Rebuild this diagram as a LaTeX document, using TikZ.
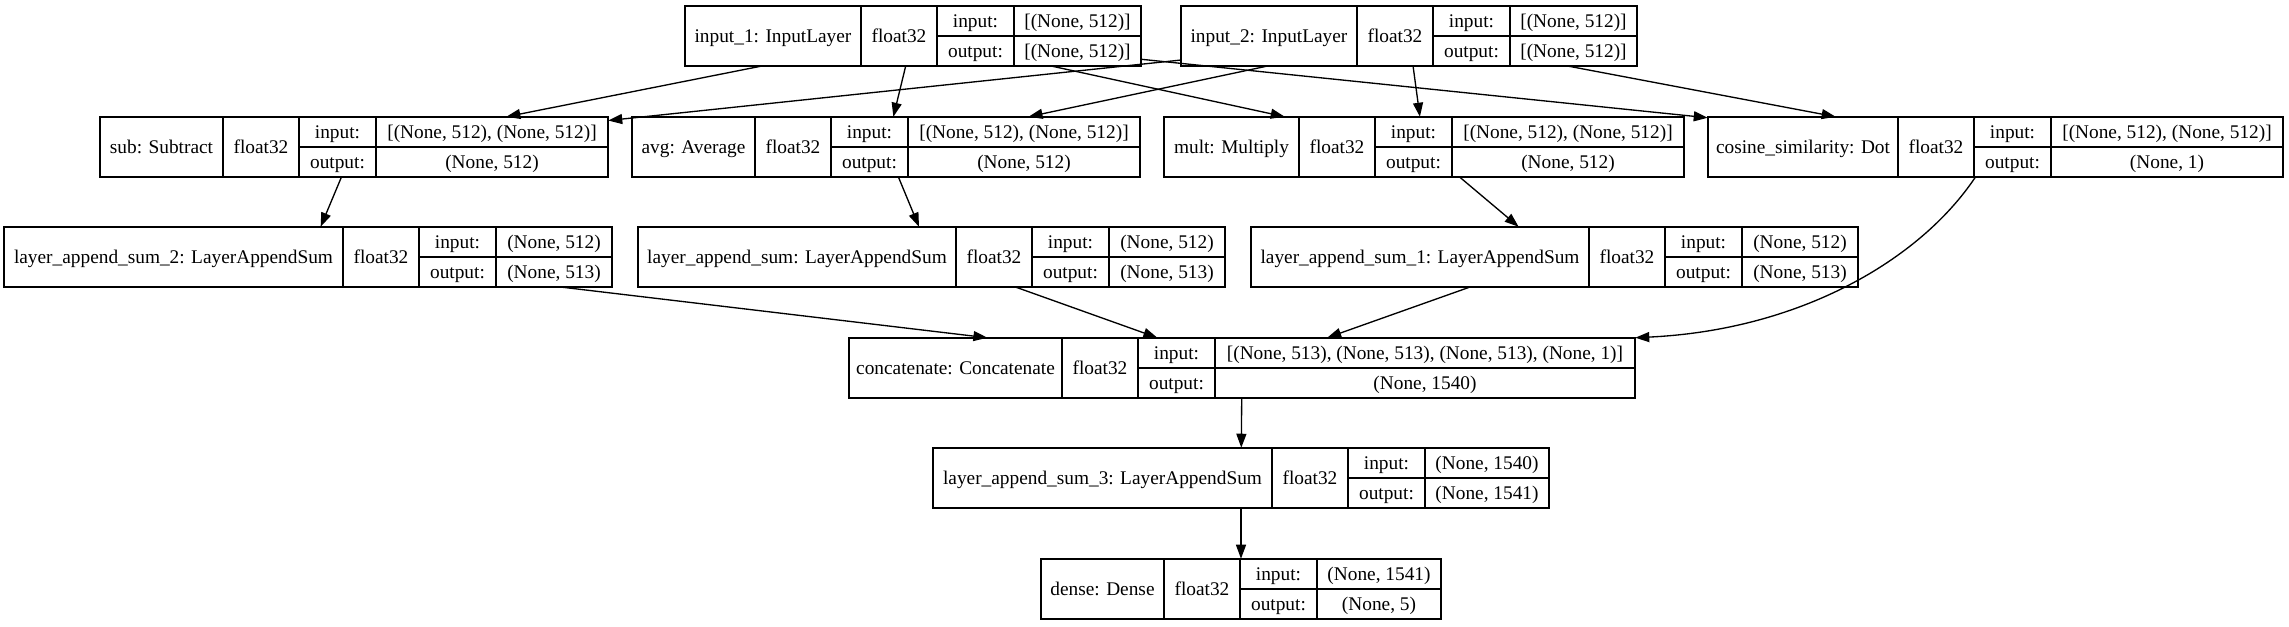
\documentclass[tikz,border=0pt]{standalone}
\usepackage{fontspec}
\setmainfont{Liberation Serif}
\usepackage{tikz}
\usetikzlibrary{positioning,fit,arrows.meta}

\newcommand{\px}{0.75pt}
% one layer record: id, left x, top y, name width, value width, label, input, output
\newcommand{\kerasnode}[8]{%
  \node[field, tall, minimum width=#4*\px, anchor=north west] (#1-name) at (#2,#3) {#6};
  \node[field, tall, minimum width=76*\px, right=0pt of #1-name] (#1-type) {float32};
  \node[field, minimum width=77*\px, anchor=north west] (#1-in) at (#1-type.north east) {input:};
  \node[field, minimum width=77*\px, below=0pt of #1-in] (#1-out) {output:};
  \node[field, minimum width=#5*\px, right=0pt of #1-in] (#1-inv) {#7};
  \node[field, minimum width=#5*\px, right=0pt of #1-out] (#1-outv) {#8};
  \node[fit=(#1-name)(#1-outv), inner sep=0pt] (#1) {};
}

\begin{document}
\begin{tikzpicture}[x=0.75pt, y=-0.75pt,
    field/.style={draw, line width=1.1pt, inner sep=0pt, outer sep=0pt,
      minimum height=30*\px, text height=9.6pt, text depth=0pt,
      font=\fontsize{14.5pt}{16pt}\selectfont},
    tall/.style={minimum height=60*\px},
    flow/.style={line width=1pt, -{Triangle[length=10.5pt, width=7.5pt]}}]
  \useasboundingbox (0,0) rectangle (2289,627);

  % inputs
  \kerasnode{in1}{685}{6}{176}{127}{input\_1: InputLayer}{[(None, 512)]}{[(None, 512)]}
  \kerasnode{in2}{1181}{6}{176}{127}{input\_2: InputLayer}{[(None, 512)]}{[(None, 512)]}

  % merge layers
  \kerasnode{sub}{100}{117}{123}{232}{sub: Subtract}{[(None, 512), (None, 512)]}{(None, 512)}
  \kerasnode{avg}{632}{117}{123}{232}{avg: Average}{[(None, 512), (None, 512)]}{(None, 512)}
  \kerasnode{mult}{1164}{117}{135}{232}{mult: Multiply}{[(None, 512), (None, 512)]}{(None, 512)}
  \kerasnode{cos}{1708}{117}{190}{232}{cosine\_similarity: Dot}{[(None, 512), (None, 512)]}{(None, 1)}

  % append sums
  \kerasnode{las2}{4}{227}{339}{116}{layer\_append\_sum\_2: LayerAppendSum}{(None, 512)}{(None, 513)}
  \kerasnode{las}{638}{227}{318}{116}{layer\_append\_sum: LayerAppendSum}{(None, 512)}{(None, 513)}
  \kerasnode{las1}{1251}{227}{338}{116}{layer\_append\_sum\_1: LayerAppendSum}{(None, 512)}{(None, 513)}

  % head
  \kerasnode{concat}{849}{338}{213}{420}{concatenate: Concatenate}{[(None, 513), (None, 513), (None, 513), (None, 1)]}{(None, 1540)}
  \kerasnode{las3}{933}{448}{339}{124}{layer\_append\_sum\_3: LayerAppendSum}{(None, 1540)}{(None, 1541)}
  \kerasnode{dense}{1041}{559}{123}{124}{dense: Dense}{(None, 1541)}{(None, 5)}

  % edges
  \draw[flow] (in1) -- (sub);
  \draw[flow] (in1) -- (avg);
  \draw[flow] (in1) -- (mult);
  \draw[flow] (in1) -- (cos);
  \draw[flow] (in2) -- (sub);
  \draw[flow] (in2) -- (avg);
  \draw[flow] (in2) -- (mult);
  \draw[flow] (in2) -- (cos);
  \draw[flow] (sub) -- (las2);
  \draw[flow] (avg) -- (las);
  \draw[flow] (mult) -- (las1);
  \draw[flow] (las2) -- (concat);
  \draw[flow] (las) -- (concat);
  \draw[flow] (las1) -- (concat);
  \draw[flow] (cos) .. controls (1920,260) and (1800,330) .. (concat.north east);
  \draw[flow] (concat) -- (las3);
  \draw[flow] (las3) -- (dense);
\end{tikzpicture}
\end{document}
